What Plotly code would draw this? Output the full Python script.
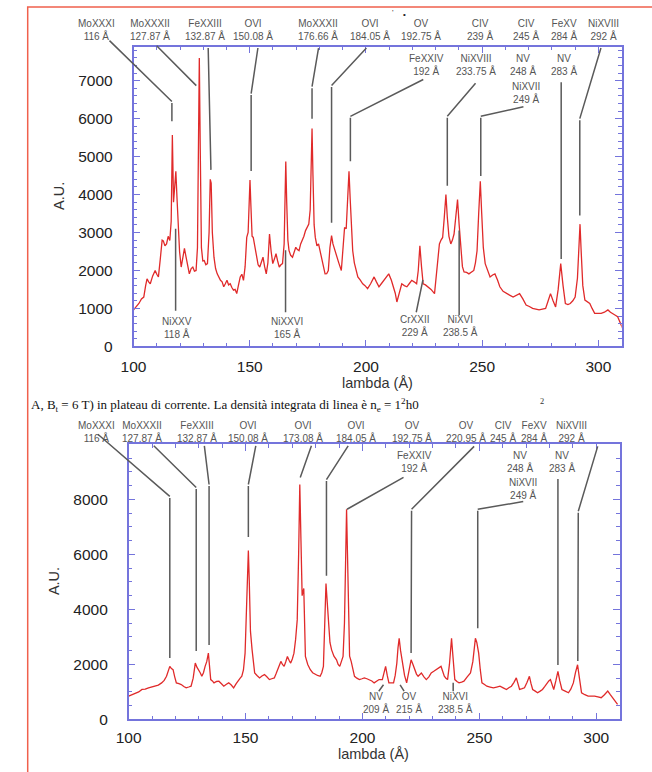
import plotly.graph_objects as go

# ---------------- data ----------------
top_wavelength = [100.0,101.2,102.3,103.4,104.4,105.2,105.8,106.5,107.2,108.2,109.3,110.0,110.7,111.5,112.3,112.8,113.5,114.2,114.9,115.6,116.2,116.7,117.2,117.7,118.2,118.7,119.1,119.8,120.5,121.2,121.9,122.6,123.3,124.0,124.8,125.5,126.2,126.9,127.5,127.9,128.3,128.7,129.2,129.8,130.4,131.1,131.8,132.5,133.0,133.4,133.9,134.6,135.3,136.0,136.7,137.4,138.1,138.8,139.5,140.2,140.9,141.6,142.3,143.0,143.7,144.4,145.1,145.9,146.6,147.3,148.0,148.7,149.3,149.8,150.1,150.5,151.0,151.5,152.2,152.9,153.6,154.3,155.0,155.7,156.4,157.1,157.8,158.5,159.2,159.9,160.6,161.3,162.0,162.7,163.4,164.1,164.8,165.2,165.5,165.9,166.4,166.9,167.6,168.4,169.1,169.8,170.5,171.2,171.9,172.6,173.3,174.0,174.7,175.4,176.0,176.5,176.8,177.2,177.7,178.2,178.9,179.6,180.3,181.0,181.7,182.4,183.1,183.8,184.5,185.2,185.8,186.6,187.3,188.3,189.4,190.2,190.8,191.5,192.1,192.7,193.2,193.8,194.3,195.0,195.7,196.5,197.5,198.6,199.6,200.7,202.0,203.5,204.5,205.6,206.6,207.7,208.8,209.8,210.9,211.9,212.6,213.3,214.3,215.4,216.5,217.6,218.6,219.7,220.7,221.8,222.5,223.2,223.9,224.6,225.6,226.7,228.0,229.5,230.5,231.6,232.3,233.0,233.7,234.4,235.0,235.7,236.5,237.2,237.9,238.7,239.4,240.1,240.8,241.5,242.2,243.3,244.3,245.4,246.4,247.1,247.8,248.5,249.2,249.8,250.5,251.3,252.3,253.4,254.5,255.5,256.6,257.6,259.0,260.4,261.8,263.3,264.7,266.1,267.5,268.9,270.3,271.7,273.1,274.5,275.9,277.3,278.4,279.4,280.5,281.6,282.7,283.8,284.8,285.8,286.9,287.9,289.0,290.0,291.0,291.6,292.1,292.6,293.3,294.2,295.2,296.3,297.3,298.4,299.8,301.2,302.6,304.1,305.2,306.2,307.3,308.3,309.4,310.4]
top_intensity = [960,1050,1130,1250,1300,1600,1780,1700,1650,1850,2000,1900,1830,2300,2800,2780,2650,2700,2900,2790,3300,5570,3800,4200,4610,3900,3300,2500,2090,2300,2580,2350,2100,1910,2050,2090,1980,2000,2600,5500,7600,5200,2600,2250,2260,2150,2180,3000,4400,4300,3000,2350,2050,1910,1820,1740,1700,1570,1650,1740,1620,1650,1550,1480,1500,1390,1600,1830,1900,1740,2100,2870,3000,3800,4380,3700,2900,2870,2600,2350,2150,2090,2250,2350,2100,1910,2200,2960,2500,2180,2300,2440,2250,2090,2150,2180,2700,4000,4870,3800,2800,2520,2400,2350,2500,2610,2550,2520,2700,2780,2900,3050,3150,3220,3600,5000,5740,4500,3200,2870,2650,2700,2500,2350,2100,1910,1915,2000,2600,2920,2700,2520,2350,2200,2000,2600,3130,3100,3700,4610,3900,3000,2520,2200,2000,1830,1750,1650,1600,1520,1650,1830,1700,1570,1650,1740,1800,1910,1750,1570,1400,1170,1400,1650,1600,1570,1650,1740,1700,1650,2000,2650,2100,1650,1620,1570,1500,1390,2000,2700,2800,2870,3400,4000,3400,2900,2700,2800,2960,3500,3870,3200,2520,2100,1960,1950,1910,1950,2000,2200,2520,3500,4350,3500,2600,2180,2000,1830,1880,1910,1750,1570,1450,1390,1350,1300,1350,1390,1250,1090,1050,1000,980,960,980,1000,1200,1390,1200,1040,1500,2180,1600,1130,1100,1130,1200,1300,1800,2800,3220,2500,1600,1220,1180,1130,1000,870,870,870,900,960,900,870,820,780,620,480]

bottom_wavelength = [100.0,101.4,102.9,104.3,105.7,107.1,108.5,109.9,111.3,112.7,114.1,115.2,116.2,117.0,117.6,118.3,119.0,119.7,120.4,121.5,122.5,123.6,124.6,125.7,126.7,127.6,128.5,129.2,129.9,130.6,131.3,132.0,132.7,133.4,134.1,134.6,135.1,135.8,136.5,137.6,138.6,139.7,140.7,141.8,142.8,143.9,144.9,146.0,147.0,147.7,148.4,149.1,149.8,150.4,150.9,151.2,151.6,152.1,152.8,153.3,153.9,154.9,156.0,157.0,158.1,159.1,160.2,161.2,162.3,163.0,163.7,164.4,165.1,165.8,166.5,167.2,167.9,168.6,169.3,170.0,170.7,171.4,172.1,172.7,173.2,173.7,174.2,174.9,175.3,175.6,176.6,177.7,178.7,179.8,180.8,181.9,182.6,183.3,183.9,184.4,184.9,185.4,186.1,186.8,187.8,188.9,189.6,190.3,191.0,191.7,192.3,192.8,193.2,193.6,194.0,194.5,195.2,196.6,197.6,198.7,199.8,200.8,201.9,202.9,204.0,205.0,206.1,207.1,208.5,209.2,209.9,210.6,211.3,212.3,213.3,214.0,214.7,215.2,215.7,216.3,217.1,218.0,218.9,219.8,220.3,220.8,221.6,222.4,223.1,223.8,224.5,225.2,226.3,227.3,228.4,229.4,230.5,231.5,232.6,233.6,234.3,235.0,235.7,236.4,237.2,237.7,238.1,238.6,239.0,239.5,240.4,241.3,242.4,243.4,244.8,246.2,247.2,247.8,248.3,248.9,249.7,250.4,251.1,252.2,253.2,254.6,256.0,257.4,258.8,260.2,261.6,262.6,263.7,264.8,265.8,266.5,267.2,268.3,269.3,270.4,271.4,272.1,272.8,273.9,274.9,276.0,277.0,278.0,279.0,279.7,280.4,281.1,281.8,282.7,283.6,284.4,285.3,286.7,288.1,289.1,290.2,291.1,292.0,292.8,293.7,295.1,296.5,297.9,299.3,300.7,302.1,303.5,304.9,306.0,307.0,308.0,309.1]
bottom_intensity = [850,900,970,1000,1090,1100,1150,1180,1210,1250,1330,1420,1570,1800,1930,1850,1810,1550,1330,1300,1270,1200,1150,1180,1210,1500,2050,1900,1810,1700,1570,1700,1930,2100,2410,1900,1450,1400,1330,1380,1390,1300,1210,1280,1330,1250,1150,1300,1450,1500,1570,1800,2410,4000,5500,6140,5000,3200,2530,2100,1690,1600,1510,1580,1630,1550,1450,1480,1510,1650,1810,1950,2110,2000,1930,2100,2290,2150,2050,2200,2410,2900,3620,6000,8540,6500,4500,4760,3500,2290,2000,1810,1700,1630,1600,1570,1700,1930,3500,4940,4300,3620,2800,2530,2300,2170,2000,1930,2100,2290,3500,6500,7640,6000,3500,2300,2100,1570,1500,1450,1480,1510,1480,1450,1400,1330,1400,1450,1450,1700,1930,1600,1330,1330,1330,1600,2050,2600,2950,2500,2050,1600,1330,1700,2000,2170,2000,1810,1650,1570,1650,1690,1550,1450,1550,1690,1750,1810,1870,1930,1750,1570,1500,1450,2000,2700,2950,2400,1800,1450,1380,1330,1360,1390,1550,1690,2100,2700,2950,2800,2410,1800,1330,1270,1210,1180,1150,1180,1210,1150,1090,1150,1210,1350,1510,1300,1090,1120,1150,1350,1570,1300,1090,1030,970,1030,1090,1200,1330,1400,1450,1250,1090,1400,1750,1400,1090,1030,970,1100,1330,1700,1990,1500,970,900,850,850,850,820,790,900,1030,900,790,700,550]

x_tick_values = [100, 150, 200, 250, 300]
x_tick_labels = ["100", "150", "200", "250", "300"]
top_y_tick_values = [0, 1000, 2000, 3000, 4000, 5000, 6000, 7000]
top_y_tick_labels = ["0", "1000", "2000", "3000", "4000", "5000", "6000", "7000"]
bottom_y_tick_values = [0, 2000, 4000, 6000, 8000]
bottom_y_tick_labels = ["0", "2000", "4000", "6000", "8000"]

# line identifications (ion, wavelength)
top_head_ions = ["MoXXXI", "MoXXXII", "FeXXIII", "OVI", "MoXXXII", "OVI", "OV", "CIV", "CIV", "FeXV", "NiXVIII"]
top_head_waves = ["116", "127.87", "132.87", "150.08", "176.66", "184.05", "192.75", "239", "245", "284", "292"]
top_inner_ions = ["FeXXIV", "NiXVIII", "NV", "NV", "NiXVII"]
top_inner_waves = ["192", "233.75", "248", "283", "249"]
top_foot_ions = ["NiXXV", "NiXXVI", "CrXXII", "NiXVI"]
top_foot_waves = ["118", "165", "229", "238.5"]

bot_head_ions = ["MoXXXI", "MoXXXII", "FeXXIII", "OVI", "OVI", "OVI", "OV", "OV", "CIV", "FeXV", "NiXVIII"]
bot_head_waves = ["116", "127.87", "132.87", "150.08", "173.08", "184.05", "192.75", "220.95", "245", "284", "292"]
bot_inner_ions = ["FeXXIV", "NV", "NV", "NiXVII"]
bot_inner_waves = ["192", "248", "283", "249"]
bot_foot_ions = ["NV", "OV", "NiXVI"]
bot_foot_waves = ["209", "215", "238.5"]

# leader lines (wavelength, intensity) from label to line
top_leaders = [
    [(89.0, 8094), (116.5, 6450), (116.5, 5930)],
    [(109.3, 7960), (127.0, 6870)],
    [(132.1, 7900), (133.3, 4650)],
    [(153.6, 7900), (150.6, 6660), (150.6, 4620)],
    [(179.7, 7900), (176.8, 6840), (176.8, 6000)],
    [(200.8, 7900), (185.2, 6870), (185.2, 3260)],
    [(225.3, 7050), (193.3, 6060), (193.3, 4880)],
    [(247.7, 6970), (235.0, 6060), (235.0, 4230)],
    [(268.4, 6320), (249.4, 6060), (249.4, 4490)],
    [(284.0, 7000), (284.0, 2300)],
    [(301.3, 7900), (292.0, 6000), (292.0, 3450)],
    [(118.1, 900), (118.1, 3100)],
    [(165.4, 860), (165.4, 2530)],
    [(221.5, 860), (224.5, 1750)],
    [(240.1, 780), (240.1, 3050)],
]
bottom_leaders = [
    [(86.2, 10414), (117.6, 8108), (117.6, 2234)],
    [(110.1, 10000), (128.9, 8432), (128.9, 2486)],
    [(132.3, 10000), (134.4, 8541), (134.4, 2703)],
    [(154.5, 10000), (151.2, 8541), (151.2, 6631)],
    [(178.4, 10000), (173.4, 8793)],
    [(194.3, 10000), (184.6, 8721), (184.6, 5225)],
    [(218.2, 8829), (193.4, 7640)],
    [(248.4, 9982), (221.0, 7640), (220.8, 2414)],
    [(269.4, 7928), (249.3, 7640), (249.3, 3315)],
    [(283.6, 8793), (283.6, 1982)],
    [(300.8, 9982), (292.3, 7568), (292.1, 2126)],
    [(206.5, 973), (209.0, 1261)],
    [(218.2, 973), (216.1, 1261)],
    [(238.8, 973), (238.8, 1333)],
]

# ---------------- layout helpers (pixel -> paper) ----------------
W, H = 652, 772
def px(x):
    return x / W
def py(y):
    return 1 - y / H

# label placement (pixel centres)
top_head_x = [85, 140, 196, 245, 311, 364, 416, 476, 523, 562, 603]
top_head_y = 30
top_inner_xy = [(422, 66), (472, 66), (520, 66), (562, 66), (523, 94)]
top_foot_xy = [(167, 331), (280, 331), (410, 329), (457, 329)]
bot_head_x = [85, 132, 188, 240, 296, 350, 407, 462, 500, 532, 570]
bot_head_y = 437
bot_inner_xy = [(410, 467), (517, 467), (560, 467), (520, 494)]
bot_foot_xy = [(370, 710), (404, 710), (452, 710)]

RED = "#e02a2a"
BLUE = "#7474dc"
LEAD = "#5a5a5a"
LABEL = "#555555"

fig = go.Figure()
fig.add_trace(go.Scatter(x=top_wavelength, y=top_intensity, xaxis="x", yaxis="y",
                         mode="lines", line=dict(color=RED, width=1.3),
                         showlegend=False, hoverinfo="skip"))
fig.add_trace(go.Scatter(x=bottom_wavelength, y=bottom_intensity, xaxis="x2", yaxis="y2",
                         mode="lines", line=dict(color=RED, width=1.3),
                         showlegend=False, hoverinfo="skip"))

tickfont = dict(family="Liberation Sans, Arial, sans-serif", size=15.5, color="#222")
common = dict(showline=True, linecolor=BLUE, linewidth=1.5, mirror="allticks",
              ticks="inside", ticklen=7, tickwidth=1.2, tickcolor=BLUE,
              showgrid=False, zeroline=False, tickfont=tickfont)

top_x_dom = [px(123), px(621)]
top_y_dom = [py(350), py(47)]
bot_x_dom = [px(118), px(619)]
bot_y_dom = [py(727), py(449)]

fig.update_layout(
    width=W, height=H, margin=dict(l=0, r=0, t=0, b=0), autosize=False,
    paper_bgcolor="white", plot_bgcolor="white", showlegend=False,
    xaxis=dict(domain=top_x_dom, range=[100, 310], anchor="y",
               tickvals=x_tick_values, ticktext=x_tick_labels, ticklabelstandoff=5,
               minor=dict(ticks="inside", ticklen=4, tickcolor=BLUE, dtick=10, tick0=100),
               **common),
    yaxis=dict(domain=top_y_dom, range=[0, 7900], anchor="x",
               tickvals=top_y_tick_values, ticktext=top_y_tick_labels, ticklabelstandoff=16,
               minor=dict(ticks="inside", ticklen=4, tickcolor=BLUE, dtick=200, tick0=0),
               **common),
    xaxis2=dict(domain=bot_x_dom, range=[100, 310], anchor="y2",
                tickvals=x_tick_values, ticktext=x_tick_labels, ticklabelstandoff=3,
                minor=dict(ticks="inside", ticklen=4, tickcolor=BLUE, dtick=10, tick0=100),
                **common),
    yaxis2=dict(domain=bot_y_dom, range=[0, 10000], anchor="x2",
                tickvals=bottom_y_tick_values, ticktext=bottom_y_tick_labels, ticklabelstandoff=16,
                minor=dict(ticks="inside", ticklen=4, tickcolor=BLUE, dtick=500, tick0=0),
                **common),
)

# red page frame (left and top edges visible)
fig.add_shape(type="rect", xref="paper", yref="paper", x0=px(15), x1=1.05, y0=-0.05, y1=py(7),
              line=dict(color="#f0604c", width=1.5), layer="below")

# leader lines
def add_leaders(leaders, xr, yr):
    for poly in leaders:
        for (x0, y0), (x1, y1) in zip(poly[:-1], poly[1:]):
            fig.add_annotation(x=x1, y=y1, ax=x0, ay=y0, xref=xr, yref=yr, axref=xr, ayref=yr,
                               text="", showarrow=True, arrowhead=0, arrowwidth=1.5,
                               arrowcolor=LEAD, standoff=0, startstandoff=0)

add_leaders(top_leaders, "x", "y")
add_leaders(bottom_leaders, "x2", "y2")

labfont = dict(family="Liberation Sans, Arial, sans-serif", size=10, color=LABEL)
def add_label(ion, wave, cx, cy):
    fig.add_annotation(x=px(cx), y=py(cy), xref="paper", yref="paper",
                       text=f"{ion}<br>{wave} Å", showarrow=False, font=labfont,
                       align="center", xanchor="center", yanchor="middle")

for ion, wave, cx in zip(top_head_ions, top_head_waves, top_head_x):
    add_label(ion, wave, cx, top_head_y)
for ion, wave, (cx, cy) in zip(top_inner_ions, top_inner_waves, top_inner_xy):
    add_label(ion, wave, cx, cy)
for ion, wave, (cx, cy) in zip(top_foot_ions, top_foot_waves, top_foot_xy):
    add_label(ion, wave, cx, cy)
for ion, wave, cx in zip(bot_head_ions, bot_head_waves, bot_head_x):
    add_label(ion, wave, cx, bot_head_y)
for ion, wave, (cx, cy) in zip(bot_inner_ions, bot_inner_waves, bot_inner_xy):
    add_label(ion, wave, cx, cy)
for ion, wave, (cx, cy) in zip(bot_foot_ions, bot_foot_waves, bot_foot_xy):
    add_label(ion, wave, cx, cy)

# axis titles
titlefont = dict(family="Liberation Sans, Arial, sans-serif", size=14.5, color="#333")
def add_title(text, cx, cy, angle=0):
    fig.add_annotation(x=px(cx), y=py(cy), xref="paper", yref="paper", text=text,
                       textangle=angle, showarrow=False, font=titlefont,
                       xanchor="center", yanchor="middle")

add_title("A.U.", 47, 198, -90)
add_title("A.U.", 42, 587, -90)
add_title("lambda (Å)", 372, 387)
add_title("lambda (Å)", 368, 762)

# stray document text between the panels
fig.add_annotation(x=px(16), y=py(409), xref="paper", yref="paper", xanchor="left", yanchor="middle",
                   text="A, B<sub>t</sub> = 6 T) in plateau di corrente. La densità integrata di linea è n<sub>e</sub> = 1<sup>2</sup>h0",
                   showarrow=False, font=dict(family="Liberation Serif, Times New Roman, serif", size=13, color="#111"))
fig.add_annotation(x=px(540), y=py(406), xref="paper", yref="paper", xanchor="center", yanchor="middle",
                   text="<sup>2</sup>", showarrow=False,
                   font=dict(family="Liberation Serif, serif", size=12, color="#333"))
fig.add_annotation(x=px(388), y=py(13), xref="paper", yref="paper", xanchor="center", yanchor="middle",
                   text="'", showarrow=False, font=dict(family="Liberation Sans", size=8, color="#333"))
fig.add_annotation(x=px(399), y=py(15), xref="paper", yref="paper", xanchor="center", yanchor="middle",
                   text="•", showarrow=False, font=dict(family="Liberation Sans", size=8, color="#222"))

fig.write_html("out.html")
